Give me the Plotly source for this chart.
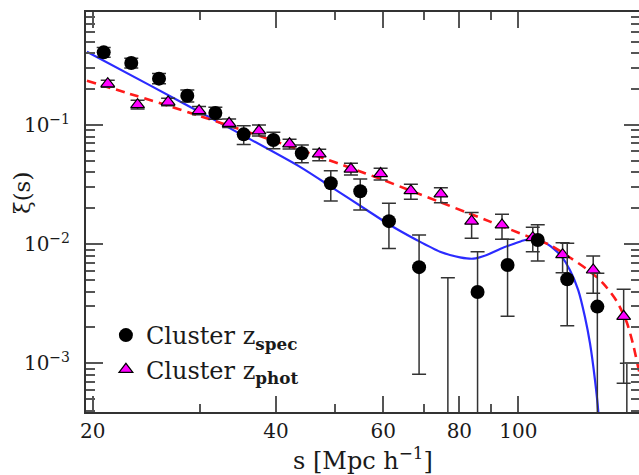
import plotly.graph_objects as go

# --- measured two-point correlation function, spectroscopic cluster sample ---
s_spec = [20.85, 23.14, 25.7, 28.6, 31.8, 35.4, 39.6, 44.1, 49.2, 55.0,
          61.3, 68.7, 76.6, 85.7, 96.0, 107.6, 120.3, 134.8, 150.7]
xi_spec = [0.407, 0.331, 0.245, 0.176, 0.126, 0.0835, 0.0748, 0.0579, 0.0324, 0.0278,
           0.0156, 0.00641, 0.0002, 0.00397, 0.00668, 0.01083, 0.00507, 0.00299, 0.0002]
spec_err_up = [0.040, 0.033, 0.025, 0.021, 0.015, 0.015, 0.012, 0.0101, 0.0090, 0.0074,
               0.0064, 0.0055, 0.00503, 0.00467, 0.0043, 0.0037, 0.0051, 0.0027, 0.0008]
spec_err_dn = [0.037, 0.030, 0.023, 0.020, 0.014, 0.015, 0.0115, 0.0096, 0.0094, 0.0085,
               0.0064, 0.0056, 0.0010, 0.0050, 0.0042, 0.0036, 0.0030, 0.0040, 0.0010]

# --- photometric cluster sample ---
s_phot = [21.17, 23.7, 26.6, 29.9, 33.5, 37.5, 42.1, 47.1, 53.1, 59.4,
          66.6, 74.6, 83.8, 94.0, 105.6, 118.2, 132.7, 148.9]
xi_phot = [0.222, 0.148, 0.156, 0.132, 0.1033, 0.0894, 0.0695, 0.0573, 0.0427, 0.0391,
           0.0281, 0.0264, 0.0156, 0.0145, 0.01133, 0.00816, 0.00607, 0.00248]
phot_err_up = [0.016, 0.013, 0.012, 0.011, 0.009, 0.0106, 0.0064, 0.0052, 0.0050, 0.0042,
               0.0037, 0.0034, 0.0028, 0.0033, 0.0025, 0.0021, 0.0019, 0.0017]
phot_err_dn = [0.015, 0.012, 0.011, 0.010, 0.008, 0.0085, 0.0066, 0.0071, 0.0047, 0.0046,
               0.0043, 0.0041, 0.0044, 0.0035, 0.0027, 0.0024, 0.0022, 0.0018]

# --- model curves ---
s_model_spec = [19.57, 24.84, 32.36, 43.80, 49.68, 56.36, 61.54, 68.08, 74.36, 80.20,
                84.34, 88.72, 93.30, 98.10, 101.9, 105.8, 109.9, 114.1, 117.8, 121.5,
                125.4, 128.6, 131.1, 133.6, 135.3, 136.2]
xi_model_spec = [0.4125, 0.2150, 0.1042, 0.04450, 0.02942, 0.01935, 0.01448, 0.01083, 0.00864, 0.00775,
                 0.00755, 0.00811, 0.00911, 0.01003, 0.01073, 0.01105, 0.01049, 0.00923, 0.00785, 0.00607,
                 0.00412, 0.00246, 0.001472, 0.000724, 0.000390, 0.000227]

s_model_phot = [19.57, 23.65, 26.66, 29.86, 33.52, 37.54, 42.06, 47.11, 53.04, 59.43,
                66.38, 74.36, 82.26, 89.84, 95.69, 104.5, 112.7, 121.5, 131.1, 137.9,
                145.0, 150.6, 154.4, 157.4, 162.0]
xi_model_phot = [0.2350, 0.1750, 0.1444, 0.1197, 0.0986, 0.0811, 0.0664, 0.0542, 0.0436, 0.0352,
                 0.02826, 0.02254, 0.01843, 0.01546, 0.01364, 0.01144, 0.00984, 0.00773, 0.00590, 0.00467,
                 0.00333, 0.00222, 0.001424, 0.000913, 0.000492]

# --- axis ticks ---
x_major = [20, 40, 60, 80, 100]
x_labels = ["20", "40", "60", "80", "100"]
x_minor = [30, 50, 70, 90]
y_major = [1e-3, 1e-2, 1e-1]
y_labels = ["10<sup>\u22123</sup>", "10<sup>\u22122</sup>", "10<sup>\u22121</sup>"]
y_minor = [m * 10.0 ** e for e in (-4, -3, -2, -1) for m in range(2, 10)]

FONT = "DejaVu Serif"
TXT = "#1a1a1a"
AX = "#333333"
TK = "#555555"

x_range = [1.29003, 2.19808]
y_range = [-3.4088, -0.0516]

fig = go.Figure()

fig.add_trace(go.Scatter(
    x=s_model_spec, y=xi_model_spec, mode="lines", showlegend=False, hoverinfo="skip",
    line=dict(color="#2b2bff", width=2.2, shape="spline", smoothing=0.7)))
fig.add_trace(go.Scatter(
    x=s_model_phot, y=xi_model_phot, mode="lines", showlegend=False, hoverinfo="skip",
    line=dict(color="#ff1a1a", width=2.6, dash="9px,6px", shape="spline", smoothing=0.7)))

fig.add_trace(go.Scatter(
    x=s_phot, y=xi_phot, mode="markers", name="Cluster z<sub><b>phot</b></sub>",
    legendgroup="phot", legendrank=2,
    marker=dict(symbol="triangle-up", size=12, color="#ff00ff", line=dict(color="black", width=1.2)),
    error_y=dict(type="data", symmetric=False, array=phot_err_up, arrayminus=phot_err_dn,
                 color=AX, thickness=1.5, width=7)))
fig.add_trace(go.Scatter(
    x=s_spec, y=xi_spec, mode="markers", name="Cluster z<sub><b>spec</b></sub>",
    legendgroup="spec", legendrank=1,
    marker=dict(symbol="circle", size=14, color="black", line=dict(width=0)),
    error_y=dict(type="data", symmetric=False, array=spec_err_up, arrayminus=spec_err_dn,
                 color=AX, thickness=1.5, width=7)))

# helper trace so the right-hand tick axis is created
fig.add_trace(go.Scatter(x=[30], y=[0.01], yaxis="y2", mode="markers", showlegend=False,
                         hoverinfo="skip", marker=dict(opacity=0)))

fig.update_layout(
    width=639, height=475,
    margin=dict(l=86, r=0, t=12, b=63),
    paper_bgcolor="white", plot_bgcolor="white",
    xaxis=dict(type="log", range=x_range, showgrid=False, zeroline=False,
               showline=True, linecolor=AX, linewidth=2, mirror="ticks",
               ticks="inside", ticklen=16, tickwidth=1.5, tickcolor=TK,
               tickmode="array", tickvals=x_major, ticktext=x_labels,
               tickfont=dict(family=FONT, size=20, color=TXT),
               minor=dict(ticks="inside", ticklen=8, tickwidth=1.5, tickcolor=TK,
                          tickmode="array", tickvals=x_minor, showgrid=False)),
    yaxis=dict(type="log", range=y_range, showgrid=False, zeroline=False,
               showline=True, linecolor=AX, linewidth=2, mirror=False,
               ticks="inside", ticklen=17, tickwidth=1.5, tickcolor=TK,
               tickmode="array", tickvals=y_major, ticktext=y_labels,
               tickfont=dict(family=FONT, size=20, color=TXT), ticklabelstandoff=10,
               minor=dict(ticks="inside", ticklen=9, tickwidth=1.5, tickcolor=TK,
                          tickmode="array", tickvals=y_minor, showgrid=False)),
    yaxis2=dict(type="log", range=y_range, overlaying="y", side="right", anchor="x",
                showgrid=False, zeroline=False, showline=False, showticklabels=False,
                ticks="inside", ticklen=15, tickwidth=1.5, tickcolor=TK,
                tickmode="array", tickvals=y_major,
                minor=dict(ticks="inside", ticklen=8, tickwidth=1.5, tickcolor=TK,
                           tickmode="array", tickvals=y_minor, showgrid=False)),
    legend=dict(x=0.036, y=0.2475, xanchor="left", yanchor="top",
                bgcolor="rgba(0,0,0,0)", font=dict(family=FONT, size=24, color=TXT),
                tracegroupgap=0, itemsizing="trace"),
    annotations=[
        dict(text="\u03be(s)", xref="paper", yref="paper", x=-0.1157, y=0.5475,
             xanchor="center", yanchor="middle",
             textangle=-90, showarrow=False, font=dict(family=FONT, size=23, color=TXT)),
        dict(text="s [Mpc h<sup>\u22121</sup>]", xref="paper", yref="paper", x=0.5009, y=-0.1175,
             xanchor="center", yanchor="middle",
             showarrow=False, font=dict(family=FONT, size=24, color=TXT)),
    ],
)

fig.write_html("out.html")
